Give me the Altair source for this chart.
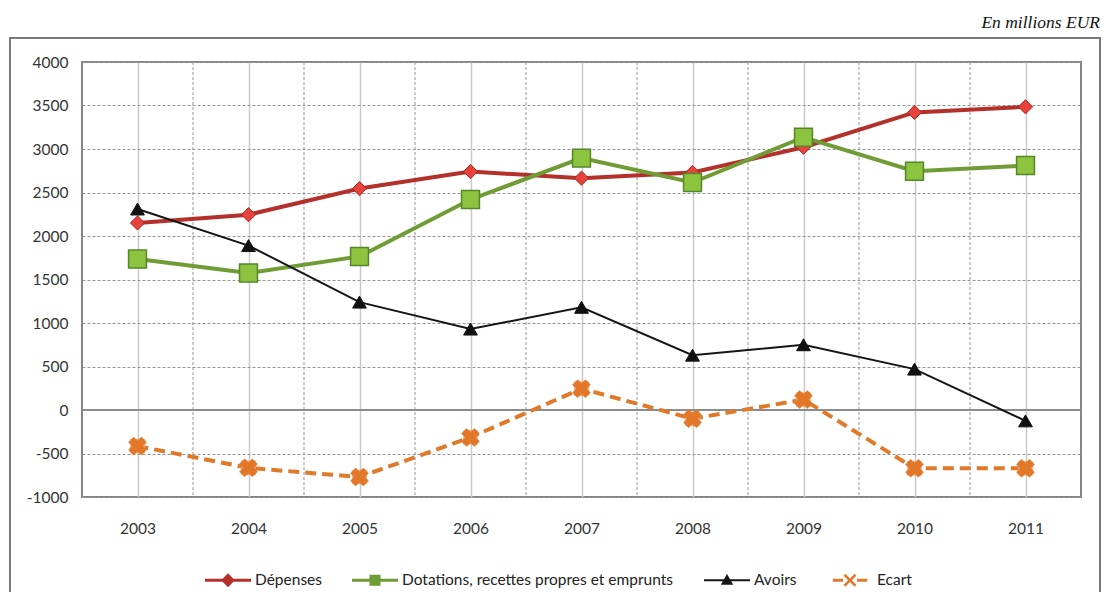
import altair as alt
import pandas as pd

years = [2003, 2004, 2005, 2006, 2007, 2008, 2009, 2010, 2011]
depenses = [2150, 2245, 2545, 2740, 2665, 2730, 3020, 3420, 3485]
dotations = [1735, 1575, 1765, 2420, 2895, 2615, 3135, 2745, 2810]
avoirs = [2310, 1890, 1240, 930, 1180, 630, 750, 470, -125]
ecart = [-415, -665, -770, -315, 245, -100, 120, -670, -670]

series_names = ["Dépenses", "Dotations, recettes propres et emprunts", "Avoirs", "Ecart"]
y_ticks = [-1000, -500, 0, 500, 1000, 1500, 2000, 2500, 3000, 3500, 4000]
boundaries = [2003.5, 2004.5, 2005.5, 2006.5, 2007.5, 2008.5, 2009.5, 2010.5]
zero_line = [0]
unit_note = "En millions EUR"

values = [depenses, dotations, avoirs, ecart]
rows = []
for name, vals in zip(series_names, values):
    for yr, v in zip(years, vals):
        rows.append({"year": yr, "value": v, "series": name})
df = pd.DataFrame(rows)

W, H = 999, 435
FONT = "Lato"

xscale = alt.Scale(domain=[2002.5, 2011.5], nice=False, zero=False)
yscale = alt.Scale(domain=[-1000, 4000], nice=False)

xaxis = alt.Axis(values=years, format="d", grid=True, gridColor="#c9c9c9", gridWidth=1.5,
                 ticks=False, domain=False, labelPadding=24, labelFont=FONT,
                 labelFontSize=15.5, labelColor="#333333", title=None)
yaxis = alt.Axis(values=y_ticks, labelExpr="'' + datum.value", grid=True, gridColor="#959595",
                 gridDash=[3, 2], gridWidth=1,
                 ticks=False, domain=False, labelPadding=14, labelFont=FONT,
                 labelFontSize=15.5, labelColor="#333333", title=None)

base = alt.Chart(df)

# dashed vertical separators between years
sep = alt.Chart(pd.DataFrame({"b": boundaries})).mark_rule(
    color="#959595", strokeDash=[3, 2], strokeWidth=1
).encode(x=alt.X("b:Q", scale=xscale, axis=xaxis))

zero = alt.Chart(pd.DataFrame({"z": zero_line})).mark_rule(
    color="#8c8c8c", strokeWidth=2
).encode(y=alt.Y("z:Q", scale=yscale, axis=yaxis))

styles = {
    "Dépenses": dict(line=dict(color="#b3302b", strokeWidth=4),
                     points=[dict(shape="diamond", size=200, fill="#e8423c", stroke="#a52520", strokeWidth=1)]),
    "Dotations, recettes propres et emprunts": dict(line=dict(color="#6f9c34", strokeWidth=4),
                     points=[dict(shape="square", size=320, fill="#8cc43f", stroke="#55862a", strokeWidth=1.5)]),
    "Avoirs": dict(line=dict(color="#151515", strokeWidth=2),
                     points=[dict(shape="triangle-up", size=190, fill="#111111", stroke="#111111", strokeWidth=1)]),
    "Ecart": dict(line=dict(color="#e07a2b", strokeWidth=4, strokeDash=[11, 6]),
                     points=[dict(shape="square", size=210, fill="#f3a66b", stroke="#f3a66b", strokeWidth=0),
                             dict(shape="cross", angle=45, size=330, fill="#e2772a", stroke="#e2772a", strokeWidth=0.5)]),
}

layers = [sep, zero]
for name in series_names:
    st = styles[name]
    sub = base.transform_filter(alt.datum.series == name)
    enc = dict(x=alt.X("year:Q", scale=xscale, axis=xaxis),
               y=alt.Y("value:Q", scale=yscale, axis=yaxis))
    layers.append(sub.mark_line(**st["line"]).encode(**enc))
for name in series_names:
    st = styles[name]
    sub = base.transform_filter(alt.datum.series == name)
    enc = dict(x=alt.X("year:Q", scale=xscale, axis=xaxis),
               y=alt.Y("value:Q", scale=yscale, axis=yaxis))
    for p in st["points"]:
        layers.append(sub.mark_point(filled=True, opacity=1, **p).encode(**enc))

# legend-only layer (no marks drawn, explicit domain)
legend_paths = [
    "M-1,-0.07H1V0.07H-1Z M0,-0.3L0.3,0L0,0.3L-0.3,0Z",
    "M-1,-0.07H1V0.07H-1Z M-0.24,-0.24H0.24V0.24H-0.24Z",
    "M-1,-0.04H1V0.04H-1Z M0,-0.27L0.27,0.2H-0.27Z",
    "M-0.75,-0.07H-0.3V0.07H-0.75Z M0.3,-0.07H0.75V0.07H0.3Z "
    "M-0.28,-0.2L-0.2,-0.28L0,-0.08L0.2,-0.28L0.28,-0.2L0.08,0L0.28,0.2L0.2,0.28L0,0.08L-0.2,0.28L-0.28,0.2L-0.08,0Z",
]
legend_colors = ["#b3302b", "#6f9c34", "#151515", "#e07a2b"]
leg = alt.Legend(title=None, orient="none", legendX=123, legendY=495, direction="horizontal",
                 symbolSize=2116, symbolStrokeWidth=0, symbolOpacity=1, columnPadding=30,
                 labelOffset=4, labelFont=FONT, labelFontSize=15.5, labelColor="#222222",
                 labelLimit=400)
legend_layer = base.transform_filter("false").mark_point(filled=True, opacity=1).encode(
    x=alt.X("year:Q", scale=xscale, axis=xaxis),
    y=alt.Y("value:Q", scale=yscale, axis=yaxis),
    color=alt.Color("series:N", scale=alt.Scale(domain=series_names, range=legend_colors), legend=leg),
    shape=alt.Shape("series:N", scale=alt.Scale(domain=series_names, range=legend_paths), legend=leg),
)
layers.append(legend_layer)

one = pd.DataFrame({"t": [unit_note]})
frame = alt.Chart(one).mark_rect(fillOpacity=0, stroke="#7a7a7a", strokeWidth=2).encode(
    x=alt.value(-72), x2=alt.value(1018), y=alt.value(-24), y2=alt.value(600)
)
note = alt.Chart(one).mark_text(font="Liberation Serif", fontStyle="italic", fontSize=17.5,
                                align="right", baseline="alphabetic", color="#111111").encode(
    text="t:N", x=alt.value(1018), y=alt.value(-34)
)
layers = [frame] + layers + [note]

chart = alt.layer(*layers).properties(
    width=W, height=H,
    autosize=alt.AutoSizeParams(type="none"),
    padding={"left": 74, "top": 54, "right": 20, "bottom": 95},
    background="white",
).configure_view(stroke="#858585", strokeWidth=2)

chart.save("out.html", embed_options={"renderer": "svg", "actions": False})
